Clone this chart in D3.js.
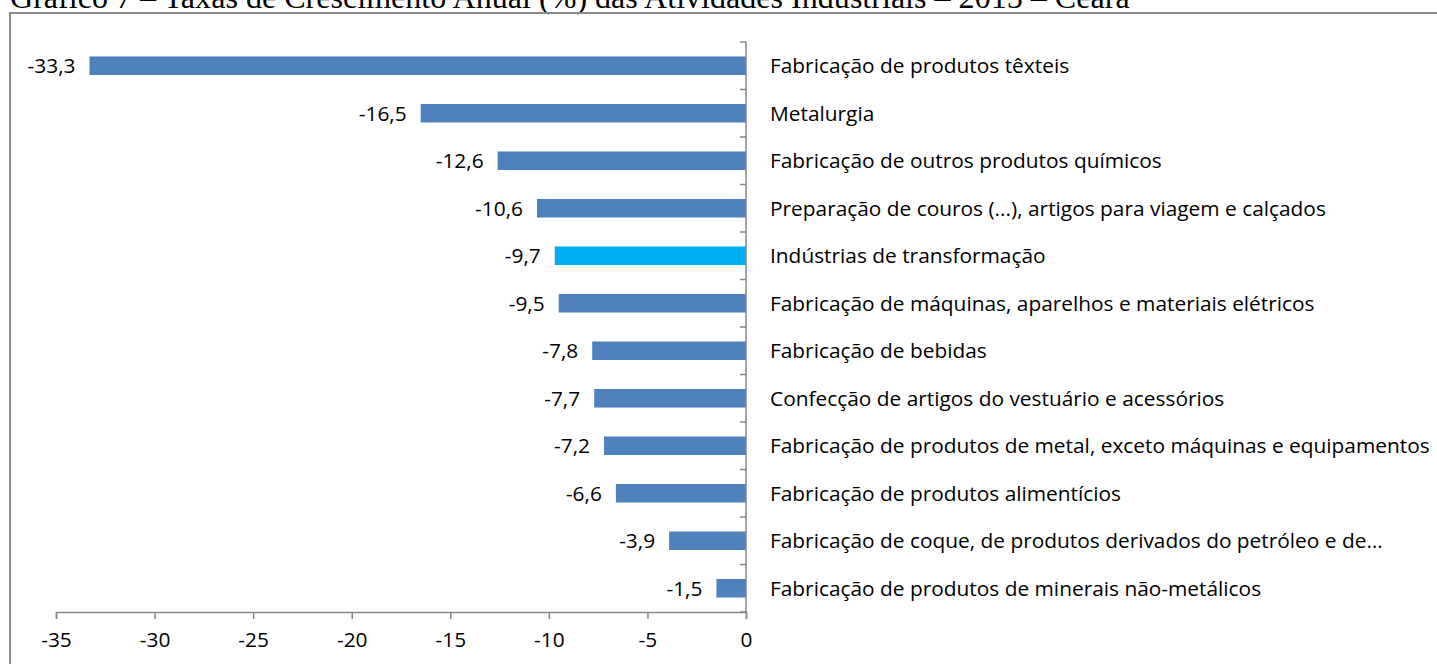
<!DOCTYPE html>
<html>
<head>
<meta charset="utf-8">
<script src="https://cdn.jsdelivr.net/npm/d3@7"></script>
<style>
  body { margin: 0; background: #fff; }
  #chart { width: 1437px; height: 664px; }
</style>
</head>
<body>
<div id="chart"></div>
<script>
var titleText = "Gráfico 7 – Taxas de Crescimento Anual (%) das Atividades Industriais – 2015 – Ceará";

var categories = [
  "Fabricação de produtos têxteis",
  "Metalurgia",
  "Fabricação de outros produtos químicos",
  "Preparação de couros (...), artigos para viagem e calçados",
  "Indústrias de transformação",
  "Fabricação de máquinas, aparelhos e materiais elétricos",
  "Fabricação de bebidas",
  "Confecção de artigos do vestuário e acessórios",
  "Fabricação de produtos de metal, exceto máquinas e equipamentos",
  "Fabricação de produtos alimentícios",
  "Fabricação de coque, de produtos derivados do petróleo e de…",
  "Fabricação de produtos de minerais não-metálicos"
];

var values = [-33.3, -16.5, -12.6, -10.6, -9.7, -9.5, -7.8, -7.7, -7.2, -6.6, -3.9, -1.5];

var highlight = "Indústrias de transformação";

var xTicks = [-35, -30, -25, -20, -15, -10, -5, 0];

document.addEventListener('DOMContentLoaded', drawChart);

function drawChart() {
  const width = 1437, height = 664;
  const svg = d3.select("#chart").append("svg")
    .attr("width", width)
    .attr("height", height);

  const font = "'Open Sans', sans-serif";

  // title, cut off at the top like the source; sized to span ~10..1130
  const title = svg.append("text")
    .attr("x", 10)
    .attr("y", 8)
    .style("font-family", "'Liberation Serif', 'Times New Roman', serif")
    .style("font-size", "30px")
    .attr("fill", "#000")
    .text(titleText);
  const tw = title.node().getComputedTextLength();
  title.style("font-size", (30 * 1120 / tw).toFixed(2) + "px");

  // frame
  svg.append("path")
    .attr("d", `M10,${height} L10,13 L${width},13`)
    .attr("fill", "none")
    .attr("stroke", "#8c8c8c")
    .attr("stroke-width", 2);

  const x = d3.scaleLinear().domain([-35, 0]).range([56, 746]);
  const band = d3.scaleBand().domain(categories).range([42, 612]);
  const y = d3.scaleBand().domain(categories).range([42, 612]).paddingInner(0.61).paddingOuter(0.305);

  const axisColor = "#868686";

  // fit the label font so the longest category spans ~660px
  const probe = svg.append("text")
    .style("font-family", font).style("font-size", "20px")
    .text(categories[8]);
  const fs = 20 * 660 / probe.node().getComputedTextLength();
  probe.remove();
  const fsize = fs.toFixed(2) + "px";

  // bars
  svg.append("g")
    .selectAll("rect")
    .data(categories)
    .join("rect")
    .attr("x", (d, i) => x(values[i]))
    .attr("y", d => y(d))
    .attr("width", (d, i) => x(0) - x(values[i]))
    .attr("height", y.bandwidth())
    .attr("fill", d => d === highlight ? "#00B0F0" : "#4F81BD");

  // value labels
  svg.append("g")
    .selectAll("text")
    .data(categories)
    .join("text")
    .attr("x", (d, i) => x(values[i]) - 14)
    .attr("y", d => y(d) + y.bandwidth() / 2)
    .attr("dy", "0.36em")
    .attr("text-anchor", "end")
    .style("font-family", font)
    .style("font-size", fsize)
    .attr("fill", "#000")
    .text((d, i) => String(values[i]).replace(".", ","));

  // vertical axis at 0 with category ticks
  const yAxis = svg.append("g");
  yAxis.append("line")
    .attr("x1", x(0)).attr("x2", x(0))
    .attr("y1", 42).attr("y2", 612)
    .attr("stroke", axisColor).attr("stroke-width", 1.5);
  yAxis.selectAll("line.tick")
    .data(d3.range(categories.length + 1))
    .join("line")
    .attr("class", "tick")
    .attr("x1", x(0) - 6).attr("x2", x(0))
    .attr("y1", i => 42 + i * band.step())
    .attr("y2", i => 42 + i * band.step())
    .attr("stroke", axisColor).attr("stroke-width", 1.5);

  // category labels
  svg.append("g")
    .selectAll("text")
    .data(categories)
    .join("text")
    .attr("x", 770)
    .attr("y", d => y(d) + y.bandwidth() / 2)
    .attr("dy", "0.36em")
    .style("font-family", font)
    .style("font-size", fsize)
    .attr("fill", "#000")
    .text(d => d);

  // bottom axis
  const xAxis = svg.append("g")
    .attr("transform", "translate(0,612)")
    .call(d3.axisBottom(x).tickValues(xTicks).tickSize(7).tickPadding(13).tickFormat(d => d));
  xAxis.select(".domain").attr("stroke", axisColor).attr("stroke-width", 1.5);
  xAxis.selectAll(".tick line").attr("stroke", axisColor).attr("stroke-width", 1.5);
  xAxis.selectAll(".tick text")
    .style("font-family", font)
    .style("font-size", fsize)
    .attr("fill", "#000");
}
</script>
</body>
</html>
